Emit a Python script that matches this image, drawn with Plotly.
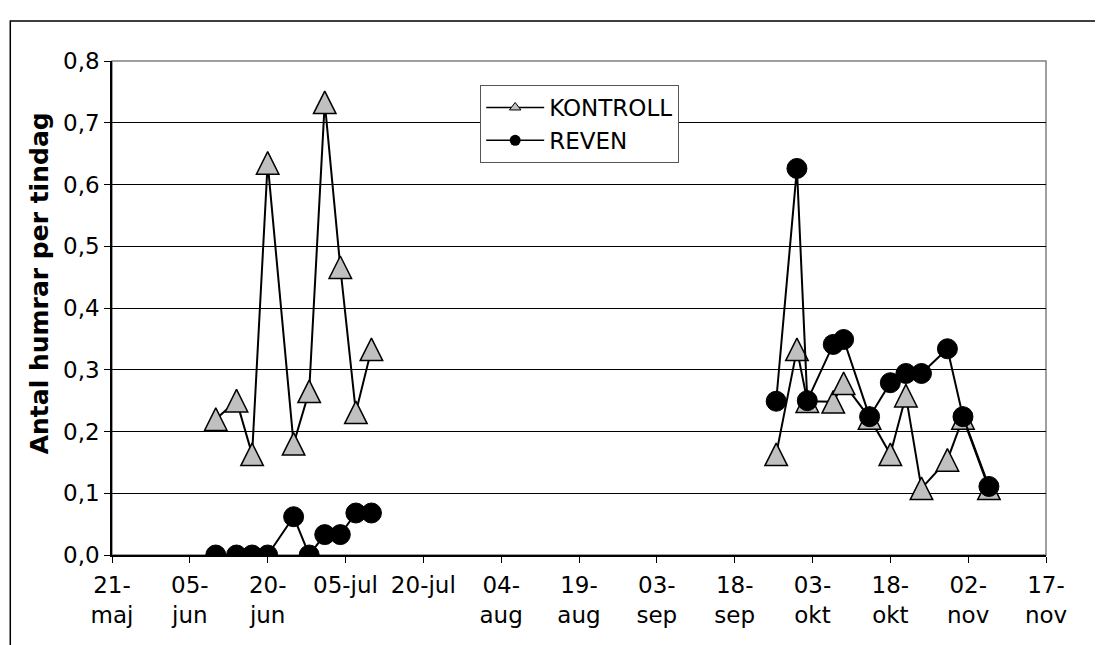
import plotly.graph_objects as go

# ---- data ----
summer_dates = ["2003-06-10", "2003-06-14", "2003-06-17", "2003-06-20", "2003-06-25",
                "2003-06-28", "2003-07-01", "2003-07-04", "2003-07-07", "2003-07-10"]
kontroll_summer = [0.22, 0.25, 0.163, 0.635, 0.18, 0.265, 0.733, 0.466, 0.231, 0.333]
reven_summer = [0.0, 0.0, 0.0, 0.0, 0.062, 0.0, 0.033, 0.033, 0.068, 0.068]

autumn_dates = ["2003-09-26", "2003-09-30", "2003-10-02", "2003-10-07", "2003-10-09",
                "2003-10-14", "2003-10-18", "2003-10-21", "2003-10-24", "2003-10-29",
                "2003-11-01", "2003-11-06"]
kontroll_autumn = [0.163, 0.333, 0.249, 0.248, 0.278, 0.222, 0.163, 0.258, 0.108,
                   0.154, 0.222, 0.108]
reven_autumn = [0.249, 0.626, 0.25, 0.341, 0.349, 0.224, 0.279, 0.294, 0.294,
                0.334, 0.224, 0.111]

tick_dates = ["2003-05-21", "2003-06-05", "2003-06-20", "2003-07-05", "2003-07-20",
              "2003-08-04", "2003-08-19", "2003-09-03", "2003-09-18", "2003-10-03",
              "2003-10-18", "2003-11-02", "2003-11-17"]
tick_labels = ["21-<br>maj", "05-<br>jun", "20-<br>jun", "05-jul", "20-jul",
               "04-<br>aug", "19-<br>aug", "03-<br>sep", "18-<br>sep", "03-<br>okt",
               "18-<br>okt", "02-<br>nov", "17-<br>nov"]

y_title = "Antal humrar per tindag"
series_names = ["KONTROLL", "REVEN"]
y_range = [0.0, 0.8]

# the two sampling periods are not joined by a line
dates = summer_dates + [None] + autumn_dates
kontroll = kontroll_summer + [None] + kontroll_autumn
reven = reven_summer + [None] + reven_autumn

FONT = "Verdana, DejaVu Sans, sans-serif"

# ---- geometry (page is offset 8px by the default body margin) ----
W, H = 1095, 637
M_L, M_R, M_T, M_B = 103.7, 57, 53, 90
plot_h = H - M_T - M_B
TRI = 22.5  # triangle marker size (width == height)
# overlay axis shifted so the apex-anchored triangle is centred on its value
shift = (TRI / 2) / plot_h * (y_range[1] - y_range[0])

fig = go.Figure()
# KONTROLL connecting line
fig.add_trace(go.Scatter(
    x=dates, y=kontroll, mode="lines", name=series_names[0],
    showlegend=False, connectgaps=False, yaxis="y",
    line=dict(color="black", width=2),
))
# KONTROLL triangles (isosceles, Excel-like)
fig.add_trace(go.Scatter(
    x=dates, y=kontroll, mode="markers", name=series_names[0],
    showlegend=False, yaxis="y2",
    marker=dict(symbol="arrow-up", size=TRI, color="#C0C0C0",
                line=dict(color="black", width=1.5)),
))
# REVEN line + circles (drawn on top)
fig.add_trace(go.Scatter(
    x=dates, y=reven, mode="lines+markers", name=series_names[1],
    showlegend=False, connectgaps=False, yaxis="y3",
    line=dict(color="black", width=2),
    marker=dict(symbol="circle", size=20, color="black",
                line=dict(color="black", width=1)),
))
# legend entries (small symbols as in the reference legend)
fig.add_trace(go.Scatter(
    x=[None], y=[None], mode="lines+markers", name=series_names[0],
    line=dict(color="black", width=1.5),
    marker=dict(symbol="triangle-up", size=10, color="#C0C0C0",
                line=dict(color="black", width=1)),
))
fig.add_trace(go.Scatter(
    x=[None], y=[None], mode="lines+markers", name=series_names[1],
    line=dict(color="black", width=1.5),
    marker=dict(symbol="circle", size=11, color="black"),
))

fig.update_layout(
    width=W, height=H,
    margin=dict(l=M_L, r=M_R, t=M_T, b=M_B, pad=0, autoexpand=False),
    paper_bgcolor="white", plot_bgcolor="white",
    separators=", ",
    font=dict(family=FONT, size=23, color="black"),
    legend=dict(
        x=0.3942, y=0.9514, xanchor="left", yanchor="top",
        bgcolor="white", bordercolor="#555555", borderwidth=1,
        font=dict(family=FONT, size=23, color="black"),
        itemwidth=58, tracegroupgap=0,
    ),
    xaxis=dict(
        type="date",
        range=[tick_dates[0], tick_dates[-1]],
        tickmode="array", tickvals=tick_dates, ticktext=tick_labels,
        ticks="outside", ticklen=6, tickcolor="black", tickwidth=1,
        ticklabelstandoff=3,
        showline=True, linecolor="black", linewidth=1.5,
        showgrid=False, zeroline=False, automargin=False,
        tickfont=dict(family=FONT, size=23, color="black"),
    ),
    yaxis=dict(
        range=y_range, dtick=0.1, tick0=0, tickformat=".1f",
        ticks="outside", ticklen=6, tickcolor="black", tickwidth=1,
        showline=True, linecolor="black", linewidth=1.5,
        showgrid=True, gridcolor="black", gridwidth=1,
        zeroline=False, automargin=False,
        tickfont=dict(family=FONT, size=23, color="black"),
    ),
    yaxis2=dict(
        overlaying="y", range=[y_range[0] - shift, y_range[1] - shift],
        visible=False, showgrid=False, zeroline=False, automargin=False,
    ),
    yaxis3=dict(
        overlaying="y", range=y_range,
        visible=False, showgrid=False, zeroline=False, automargin=False,
    ),
    annotations=[
        dict(text="<b>" + y_title + "</b>", textangle=-90,
             xref="paper", yref="paper", x=-0.0778, y=0.5506,
             xanchor="center", yanchor="middle", showarrow=False,
             font=dict(family=FONT, size=25, color="black")),
    ],
    shapes=[
        # plot-area frame (grey)
        dict(type="rect", xref="paper", yref="paper", x0=0, x1=1, y0=0, y1=1,
             line=dict(color="#808080", width=1.5), fillcolor="rgba(0,0,0,0)",
             layer="below"),
        # outer chart border
        dict(type="rect", xref="paper", yref="paper",
             x0=-0.1089, x1=1.0599, y0=-0.3, y1=1.081,
             line=dict(color="black", width=1.5), fillcolor="rgba(0,0,0,0)",
             layer="below"),
    ],
)

fig.write_html("out.html")
